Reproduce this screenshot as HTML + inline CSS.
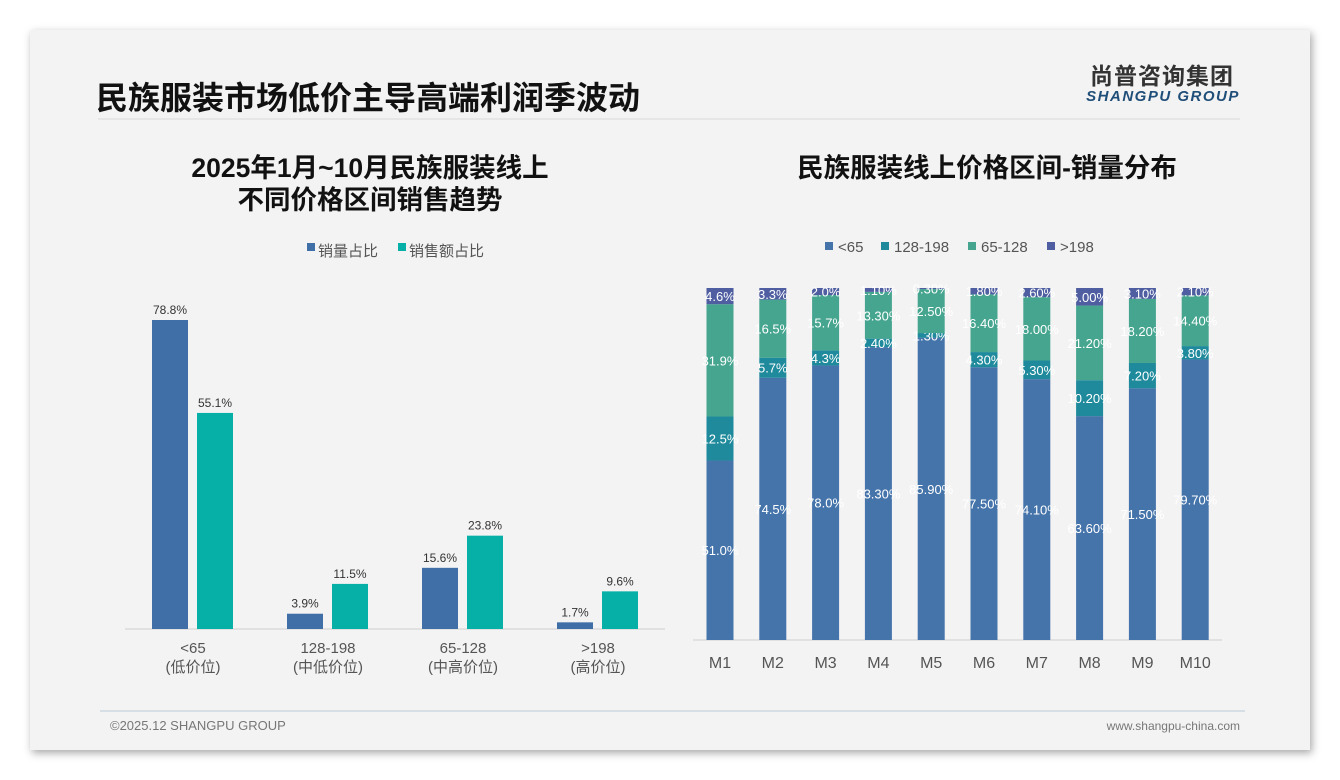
<!DOCTYPE html>
<html><head><meta charset="utf-8"><style>
body{margin:0;width:1340px;height:780px;background:#fff;font-family:"Liberation Sans","Noto Sans CJK SC",sans-serif;overflow:hidden;position:relative}
#slide{position:absolute;left:30px;top:30px;width:1280px;height:720px;background:#f3f3f3;box-shadow:2px 3px 8px rgba(0,0,0,.35)}
svg{position:absolute;left:0;top:0}
</style></head><body>
<div id="slide"></div>
<svg width="1340" height="780" font-family="Liberation Sans, Noto Sans CJK SC, sans-serif">
<text x="96" y="109" font-size="32" font-weight="bold" fill="#111">民族服装市场低价主导高端利润季波动</text>
<line x1="98" y1="119" x2="1240" y2="119" stroke="#e2e2e2" stroke-width="1.5"/>
<text x="1162" y="84" font-size="23" font-weight="bold" fill="#333" text-anchor="middle" letter-spacing="1">尚普咨询集团</text>
<text x="1163" y="101" font-size="15" font-weight="bold" font-style="italic" fill="#1f4e79" text-anchor="middle" letter-spacing="1.5">SHANGPU GROUP</text>
<text x="370" y="177" font-size="26.5" font-weight="bold" fill="#111" text-anchor="middle">2025年1月~10月民族服装线上</text>
<text x="370" y="209" font-size="26.5" font-weight="bold" fill="#111" text-anchor="middle">不同价格区间销售趋势</text>
<text x="987" y="177" font-size="26.5" font-weight="bold" fill="#111" text-anchor="middle">民族服装线上价格区间-销量分布</text>
<g id="left"></g><g id="right"></g>
<line x1="100" y1="711" x2="1245" y2="711" stroke="#b8c8d8" stroke-width="1"/>
<text x="110" y="730" font-size="13" fill="#777">©2025.12 SHANGPU GROUP</text>
<text x="1240" y="730" font-size="12" fill="#777" text-anchor="end">www.shangpu-china.com</text>
</svg>
<script>
const leftCats=["<65","128-198","65-128",">198"];
const leftSub=["(低价位)","(中低价位)","(中高价位)","(高价位)"];
const volShare=[78.8,3.9,15.6,1.7];
const amtShare=[55.1,11.5,23.8,9.6];
const months=["M1","M2","M3","M4","M5","M6","M7","M8","M9","M10"];
const s65=[51.0,74.5,78.0,83.3,85.9,77.5,74.1,63.6,71.5,79.7];
const s128=[12.5,5.7,4.3,2.4,1.3,4.3,5.3,10.2,7.2,3.8];
const s65128=[31.9,16.5,15.7,13.3,12.5,16.4,18.0,21.2,18.2,14.4];
const s198=[4.6,3.3,2.0,1.1,0.3,1.8,2.6,5.0,3.1,2.1];
const s65L=["51.0%","74.5%","78.0%","83.30%","85.90%","77.50%","74.10%","63.60%","71.50%","79.70%"];
const s128L=["12.5%","5.7%","4.3%","2.40%","1.30%","4.30%","5.30%","10.20%","7.20%","3.80%"];
const s65128L=["31.9%","16.5%","15.7%","13.30%","12.50%","16.40%","18.00%","21.20%","18.20%","14.40%"];
const s198L=["4.6%","3.3%","2.0%","1.10%","0.30%","1.80%","2.60%","5.00%","3.10%","2.10%"];
const NS="http://www.w3.org/2000/svg";
function mk(p,t,a,txt){const e=document.createElementNS(NS,t);for(const k in a)e.setAttribute(k,a[k]);if(txt!=null)e.textContent=txt;p.appendChild(e);return e;}
const L=document.getElementById('left');
const lBase=629,lScale=309/78.8;
const lx=i=>193+i*135;const ly=v=>lBase-v*lScale;
let e=mk(L,'line',{x1:125,y1:lBase,x2:665,y2:lBase,stroke:'#cfcfcf'});

e=mk(L,'rect',{x:307,y:243,width:8,height:8,fill:'#3f6fa6'});

e=mk(L,'text',{x:318,y:256,'font-size':15,fill:'#555'},'销量占比');

e=mk(L,'rect',{x:398,y:243,width:8,height:8,fill:'#06b0a6'});

e=mk(L,'text',{x:409,y:256,'font-size':15,fill:'#555'},'销售额占比');

leftCats.forEach((c,i)=>{
 const cx=lx(i);
 e=mk(L,'rect',{x:cx-41,y:ly(volShare[i]),width:36,height:volShare[i]*lScale,fill:'#3f6fa6'});
 
 e=mk(L,'text',{x:cx-23,y:ly(volShare[i])-6,'font-size':12,fill:'#333','text-anchor':'middle'},volShare[i].toFixed(1)+'%');
 
 e=mk(L,'rect',{x:cx+4,y:ly(amtShare[i]),width:36,height:amtShare[i]*lScale,fill:'#06b0a6'});
 
 e=mk(L,'text',{x:cx+22,y:ly(amtShare[i])-6,'font-size':12,fill:'#333','text-anchor':'middle'},amtShare[i].toFixed(1)+'%');
 
 e=mk(L,'text',{x:cx,y:653,'font-size':15,fill:'#555','text-anchor':'middle'},c);
 
 e=mk(L,'text',{x:cx,y:672,'font-size':15,fill:'#555','text-anchor':'middle'},leftSub[i]);
 
});
const R=document.getElementById('right');
const rTop=288,rBase=640,rH=rBase-rTop;
const rx=i=>720+i*52.8;const ry=v=>rBase-v/100*rH;
e=mk(R,'line',{x1:693,y1:rBase,x2:1222,y2:rBase,stroke:'#cfcfcf'});

const series=[[s65,s65L,'#4574aa','<65'],[s128,s128L,'#1e8a9c','128-198'],[s65128,s65128L,'#45a58f','65-128'],[s198,s198L,'#4e5ea0','>198']];
const legX=[825,881,968,1047];
series.forEach((s,k)=>{
 e=mk(R,'rect',{x:legX[k],y:242,width:8,height:8,fill:s[2]});
 
 e=mk(R,'text',{x:legX[k]+13,y:252,'font-size':15,fill:'#555'},s[3]);
 
});
months.forEach((m,i)=>{
 let acc=0;const cx=rx(i);
 const tot=s65[i]+s128[i]+s65128[i]+s198[i];
 series.forEach((s,k)=>{
  const v=s[0][i]/tot*100;
  const y1=ry(acc+v),h=v/100*rH;
  e=mk(R,'rect',{x:cx-13.5,y:y1,width:27,height:h,fill:s[2]});
  
  e=mk(R,'text',{x:cx,y:y1+h/2+5,'font-size':13,fill:'#fff','text-anchor':'middle'},s[1][i]);
  
  acc+=v;
 });
 e=mk(R,'text',{x:cx,y:668,'font-size':16,fill:'#555','text-anchor':'middle'},m);
 
});
</script>
</body></html>
